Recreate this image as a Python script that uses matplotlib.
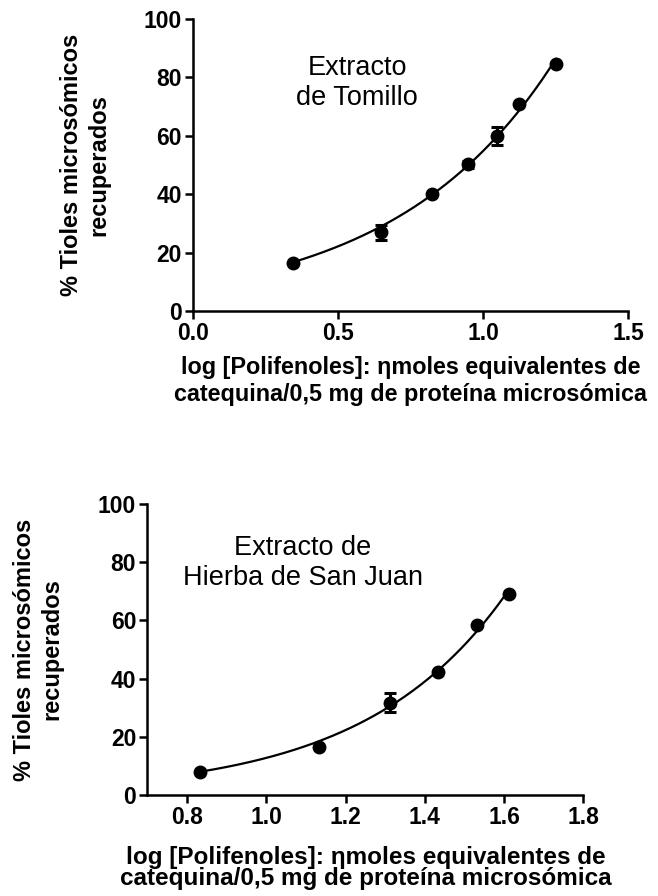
import matplotlib
matplotlib.use("Agg")
import matplotlib.pyplot as plt
import numpy as np

plt.rcParams['font.family'] = ['Liberation Sans', 'DejaVu Sans']

# Extracto de Tomillo
tom_x = [0.344, 0.647, 0.823, 0.949, 1.047, 1.125, 1.251]
tom_y = [16.3, 27.0, 40.1, 50.3, 59.9, 70.8, 84.5]
tom_err = [0.0, 2.6, 0.0, 1.2, 3.0, 0.0, 0.0]

# Extracto de Hierba de San Juan
hsj_x = [0.833, 1.134, 1.312, 1.434, 1.533, 1.612]
hsj_y = [7.8, 16.4, 31.7, 42.4, 58.4, 69.1]
hsj_err = [0.0, 0.0, 3.3, 0.0, 0.0, 0.0]

y_ticks = [0, 20, 40, 60, 80, 100]
tom_xticks = [0.0, 0.5, 1.0, 1.5]
hsj_xticks = [0.8, 1.0, 1.2, 1.4, 1.6, 1.8]

ylab = "% Tioles microsómicos\nrecuperados"
xlab = "log [Polifenoles]: \u03b7moles equivalentes de\ncatequina/0,5 mg de proteína microsómica"

fig = plt.figure(figsize=(6.58, 8.96), dpi=100)


def draw(ax, x, y, err, xticks, xlim, title, tx, ty,
         xl_size, xl_pad, xl_space, yl_pad):
    # exponential fit through the data
    b, a = np.polyfit(x, np.log(y), 1, w=np.array(y))
    xs = np.linspace(min(x), max(x), 200)
    ax.plot(xs, np.exp(a + b * xs), color='black', lw=1.6, zorder=2)
    ax.errorbar(x, y, yerr=err, fmt='o', color='black', ms=9,
                elinewidth=2.2, capsize=4, capthick=2.2, zorder=3)
    ax.set_xlim(*xlim)
    ax.set_ylim(0, 100)
    ax.set_xticks(xticks)
    ax.set_yticks(y_ticks)
    ax.set_xticklabels([f"{v:.1f}" for v in xticks])
    for s in ['top', 'right']:
        ax.spines[s].set_visible(False)
    for s in ['left', 'bottom']:
        ax.spines[s].set_linewidth(1.8)
    ax.tick_params(direction='out', length=6, width=1.8, labelsize=16.5, pad=2)
    for lab in ax.get_xticklabels() + ax.get_yticklabels():
        lab.set_fontweight('bold')
    ax.set_xlabel(xlab, fontsize=xl_size, fontweight='bold', labelpad=xl_pad,
                  linespacing=xl_space)
    ax.set_ylabel(ylab, fontsize=17, fontweight='bold', labelpad=yl_pad,
                  linespacing=1.25)
    ax.text(tx, ty, title, ha='center', va='center', fontsize=19.5,
            linespacing=1.2)


ax1 = fig.add_axes([0.2933, 0.6529, 0.661, 0.3259])
draw(ax1, tom_x, tom_y, tom_err, tom_xticks, (0.0, 1.5),
     "Extracto\nde Tomillo", 0.566, 78,
     16.8, 8, 1.22, 24)

ax2 = fig.add_axes([0.2239, 0.1127, 0.6626, 0.3248])
draw(ax2, hsj_x, hsj_y, hsj_err, hsj_xticks, (0.7, 1.8),
     "Extracto de\nHierba de San Juan", 1.092, 79.7,
     17.5, 12, 0.92, 25)

fig.savefig("out.png", dpi=100)
